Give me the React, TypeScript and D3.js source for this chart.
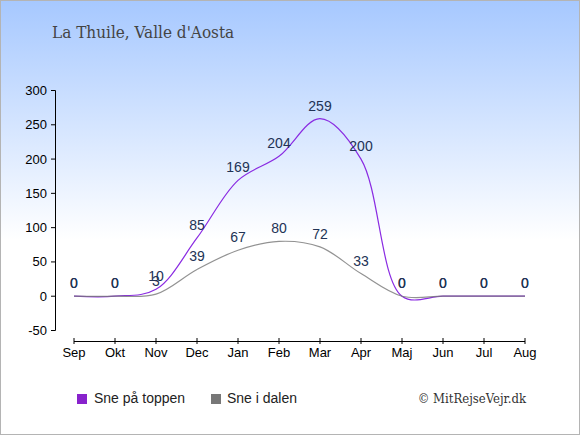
import * as d3 from "d3";

const MONTHS = ["Sep", "Okt", "Nov", "Dec", "Jan", "Feb", "Mar", "Apr", "Maj", "Jun", "Jul", "Aug"];
const TOP_SNOW = [0, 0, 10, 85, 169, 204, 259, 200, 0, 0, 0, 0];
const VALLEY_SNOW = [0, 0, 3, 39, 67, 80, 72, 33, 0, 0, 0, 0];
const Y_TICKS = [-50, 0, 50, 100, 150, 200, 250, 300];

const WIDTH = 580;
const HEIGHT = 435;
const PURPLE = "#8a2be2";
const GREY = "#777777";
const LABEL = "#223355";
const SANS = "'Liberation Sans', Arial, sans-serif";

export default function App() {
    const xScale = d3.scalePoint<string>().domain(MONTHS).range([74, 525]);
    const yScale = d3.scaleLinear().domain([-50, 300]).range([330.5, 90.5]);

    const line = d3
        .line<number>()
        .x((_, i) => xScale(MONTHS[i]) ?? 0)
        .y((d) => yScale(d))
        .curve(d3.curveCatmullRom);

    const labels = (data: number[], key: string) =>
        data.map((v, i) => (
            <text
                key={key + i}
                x={xScale(MONTHS[i])}
                y={yScale(v) - 8}
                textAnchor="middle"
                fontSize={14}
                fontFamily={SANS}
                fill={LABEL}
            >
                {v}
            </text>
        ));

    return (
        <div style={{ position: "absolute", left: 0, top: 0 }}>
            <svg width={WIDTH} height={HEIGHT}>
                <defs>
                    <linearGradient id="bg" x1="0" y1="0" x2="0" y2="240" gradientUnits="userSpaceOnUse">
                        <stop offset="0" stopColor="#a6c8ff" />
                        <stop offset="1" stopColor="#ffffff" />
                    </linearGradient>
                </defs>
                <rect x={0.5} y={0.5} width={WIDTH - 1} height={HEIGHT - 1} fill="url(#bg)" stroke="#b4b4b4" />

                <text x={52} y={38} fontSize={17} fontFamily="'DejaVu Serif Condensed', 'DejaVu Serif', serif" fill="#444">
                    La Thuile, Valle d'Aosta
                </text>

                {/* y axis */}
                <line x1={55.5} x2={55.5} y1={yScale(300)} y2={yScale(-50)} stroke="#000" />
                {Y_TICKS.map((t) => (
                    <g key={t}>
                        <line x1={51} x2={55.5} y1={yScale(t)} y2={yScale(t)} stroke="#000" />
                        <text
                            x={47}
                            y={yScale(t)}
                            textAnchor="end"
                            dominantBaseline="central"
                            fontSize={13}
                            fontFamily={SANS}
                            fill="#000"
                        >
                            {t}
                        </text>
                    </g>
                ))}

                {/* x axis */}
                <line x1={xScale(MONTHS[0])} x2={xScale(MONTHS[11])} y1={341.5} y2={341.5} stroke="#000" />
                {MONTHS.map((m) => (
                    <g key={m}>
                        <line x1={xScale(m)} x2={xScale(m)} y1={338} y2={344} stroke="#000" />
                        <text x={xScale(m)} y={357} textAnchor="middle" fontSize={13} fontFamily={SANS} fill="#000">
                            {m}
                        </text>
                    </g>
                ))}

                <path d={line(TOP_SNOW) ?? ""} fill="none" stroke={PURPLE} strokeWidth={1.2} />
                <path d={line(VALLEY_SNOW) ?? ""} fill="none" stroke={GREY} strokeWidth={1.2} strokeOpacity={0.8} />

                {labels(TOP_SNOW, "t")}
                {labels(VALLEY_SNOW, "v")}

                {/* legend */}
                <rect x={77} y={394} width={10} height={10} fill="#8822cc" />
                <text x={94} y={403} fontSize={14} fontFamily={SANS} fill="#222">
                    Sne på toppen
                </text>
                <rect x={211} y={394} width={10} height={10} fill={GREY} />
                <text x={227} y={403} fontSize={14} fontFamily={SANS} fill="#222">
                    Sne i dalen
                </text>
                <text x={526} y={403} textAnchor="end" fontSize={13} fontFamily="'DejaVu Serif Condensed', 'DejaVu Serif', serif" fill="#333">
                    © MitRejseVejr.dk
                </text>
            </svg>
        </div>
    );
}
